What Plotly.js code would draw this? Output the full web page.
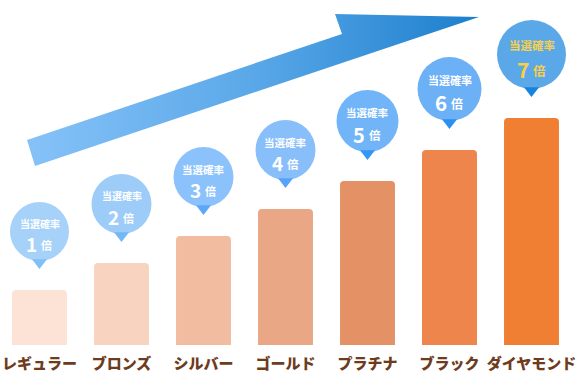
<!DOCTYPE html>
<html>
<head>
<meta charset="utf-8">
<script src="https://cdn.plot.ly/plotly-3.0.1.min.js"></script>
<style>
html,body{margin:0;padding:0;background:#fff;}
#chart{width:576px;height:379px;}
</style>
</head>
<body>
<div id="chart"></div>
<script>
// ---- data ----
const categories = ["レギュラー","ブロンズ","シルバー","ゴールド","プラチナ","ブラック","ダイヤモンド"];
const barValues = [55, 82, 109, 136, 164, 195, 227];
const multipliers = [1, 2, 3, 4, 5, 6, 7];
const bubbleLabel = "当選確率";
const unitLabel = "倍";

// ---- styles ----
const barColors = ["#fde3d6","#f8d3c0","#f2bca0","#eaa786","#e49166","#ee854c","#f07f33"];
const bubbleColors = ["#80bff7","#74b7f7","#5ba8fa","#56a3f8","#3496f5","#2d8ff2","#1683e0"];
const bubbleTextColors = ["#ffffff","#ffffff","#ffffff","#ffffff","#ffffff","#ffffff","#f9cf4a"];
const bubbleDiam = [59, 60, 60, 60, 62, 64, 69];
const labelFont = [10, 10, 10.5, 10.5, 10.5, 11, 11.5];
const numFont = [19, 19, 19, 19, 20, 20.5, 21];
const unitFont = [11, 11, 11, 11.5, 11.5, 12, 12.5];
const gap = 29;
const FONT = "'Noto Sans CJK JP', 'Noto Sans', sans-serif";

const xs = categories.map((c, i) => i);
const bubbleY = barValues.map((v, i) => v + gap + bubbleDiam[i] / 2);
const pointerY = barValues.map((v) => v + gap - 1.5);

// decorative arrow (page-pixel space on overlay axes)
const arrowX = [27, 342, 335, 479, 35, 27];
const arrowY = [140, 34, 14, 17, 166, 140];

const traces = [
  {
    type: "bar", x: xs, y: barValues, width: 0.67,
    marker: { color: barColors, cornerradius: 4, line: { width: 0 } },
    hoverinfo: "skip"
  },
  {
    type: "scatter", mode: "markers", x: xs, y: pointerY,
    marker: { symbol: "triangle-down", size: 13, color: bubbleColors, line: { width: 0 } },
    hoverinfo: "skip"
  },
  {
    type: "scatter", mode: "markers", x: xs, y: bubbleY,
    marker: { symbol: "circle", size: bubbleDiam, color: bubbleColors, line: { width: 0 } },
    hoverinfo: "skip"
  },
  {
    type: "scatter", mode: "lines", x: arrowX, y: arrowY, xaxis: "x2", yaxis: "y2",
    fill: "toself", line: { width: 0, color: "rgba(0,0,0,0)" },
    fillgradient: { type: "horizontal", start: 27, stop: 479,
      colorscale: [[0, "#86c2f8"], [0.5, "#5aa8e8"], [1, "#1c7fcd"]] },
    hoverinfo: "skip"
  }
];

const annotations = [];
xs.forEach((x, i) => {
  const s = bubbleDiam[i] / 60;
  const base = { x: x, y: bubbleY[i], xref: "x", yref: "y", showarrow: false, borderpad: 0 };
  annotations.push(Object.assign({}, base, {
    yshift: 8.5 * s, height: Math.round(labelFont[i] * 1.1),
    text: "<b>" + bubbleLabel + "</b>",
    font: { family: FONT, size: labelFont[i], color: bubbleTextColors[i], weight: 700 }
  }));
  annotations.push(Object.assign({}, base, {
    yshift: -12.5 * s, xanchor: "right", xshift: -1.2, height: Math.round(numFont[i] * 0.9),
    text: "<b>" + multipliers[i] + "</b>",
    font: { family: FONT, size: numFont[i], color: bubbleTextColors[i], weight: 700 }
  }));
  annotations.push(Object.assign({}, base, {
    yshift: -13.5 * s, xanchor: "left", xshift: 0.8, height: Math.round(unitFont[i] * 1.1),
    text: "<b>" + unitLabel + "</b>",
    font: { family: FONT, size: unitFont[i], color: bubbleTextColors[i], weight: 700 }
  }));
});

const layout = {
  width: 576, height: 379,
  margin: { l: 0, r: 0, t: 0, b: 34, pad: 0 },
  paper_bgcolor: "#ffffff", plot_bgcolor: "#ffffff",
  showlegend: false,
  xaxis: {
    range: [-39.5 / 82, (576 - 39.5) / 82], tickvals: xs, ticktext: categories,
    showgrid: false, zeroline: false, showline: false, ticks: "",
    ticklabeloverflow: "allow", ticklabelstandoff: 8,
    tickfont: { family: FONT, size: 15, color: "#6e3b1c", weight: 900 },
    fixedrange: true
  },
  yaxis: { range: [0, 345], visible: false, fixedrange: true },
  xaxis2: { overlaying: "x", range: [0, 576], visible: false, fixedrange: true },
  yaxis2: { overlaying: "y", range: [345, 0], visible: false, fixedrange: true },
  annotations: annotations
};

Plotly.newPlot("chart", traces, layout, { displayModeBar: false, staticPlot: true });
</script>
</body>
</html>
